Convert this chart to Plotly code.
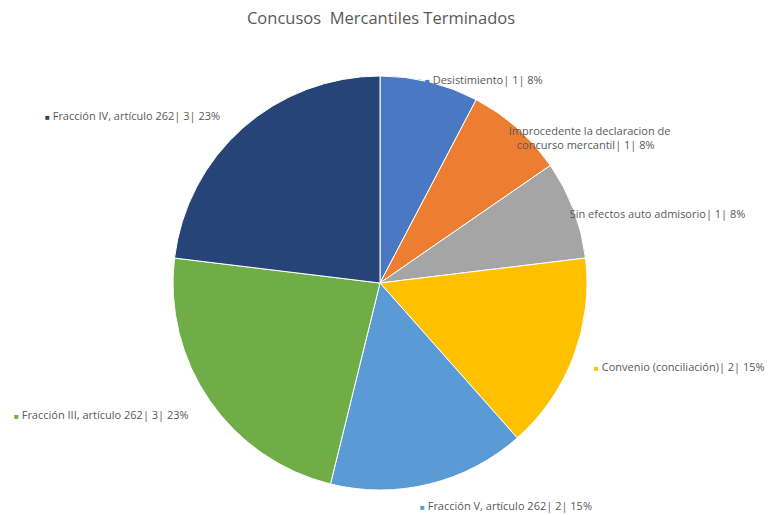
import plotly.graph_objects as go

W, H = 771, 515

labels = ["Desistimiento", "Improcedente la declaracion de concurso mercantil",
          "Sin efectos auto admisorio", "Convenio (conciliación)",
          "Fracción V, artículo 262", "Fracción III, artículo 262",
          "Fracción IV, artículo 262"]
label_text = ["Desistimiento| 1| 8%",
              "Improcedente la declaracion de<br>concurso mercantil| 1| 8%",
              "Sin efectos auto admisorio| 1| 8%",
              "Convenio (conciliación)| 2| 15%",
              "Fracción V, artículo 262| 2| 15%",
              "Fracción III, artículo 262| 3| 23%",
              "Fracción IV, artículo 262| 3| 23%"]
values = [1, 1, 1, 2, 2, 3, 3]
colors = ["#4A78C2", "#ED7D31", "#A5A5A5", "#FFC000", "#5B9BD5", "#70AD47", "#264478"]

# label anchor positions in pixels (left x, center y)
label_pos = [(424, 80), (500, 137), (561, 213), (593, 366), (419, 505), (13, 414), (44, 115)]

fig = go.Figure(go.Pie(
    labels=labels, values=values, sort=False, direction="clockwise", rotation=0,
    marker=dict(colors=colors, line=dict(color="white", width=1)),
    textinfo="none", hoverinfo="label+value+percent",
    domain=dict(x=[(380 - 207) / W, (380 + 207) / W], y=[1 - 490 / H, 1 - 76 / H]),
    showlegend=False,
))

for txt, col, (px, py) in zip(label_text, colors, label_pos):
    fig.add_annotation(
        x=px / W, y=1 - py / H, xref="paper", yref="paper",
        xanchor="left", yanchor="middle", showarrow=False, align="center",
        borderpad=0,
        text=f"<span style='color:{col};font-size:8px'>■</span> {txt}",
        font=dict(family="Open Sans, Liberation Sans, sans-serif", size=11, color="#595959"),
    )

fig.update_layout(
    width=W, height=H,
    margin=dict(l=0, r=0, t=0, b=0),
    paper_bgcolor="white", plot_bgcolor="white",
    title=dict(text="Concusos  Mercantiles Terminados", x=381 / W, xanchor="center",
               y=1 - 18 / H, yanchor="middle",
               font=dict(family="Open Sans, Liberation Sans, sans-serif", size=16.5, color="#595959")),
)

fig.write_html("out.html", config={"displayModeBar": False},
               post_script="document.body.style.margin='0';")
